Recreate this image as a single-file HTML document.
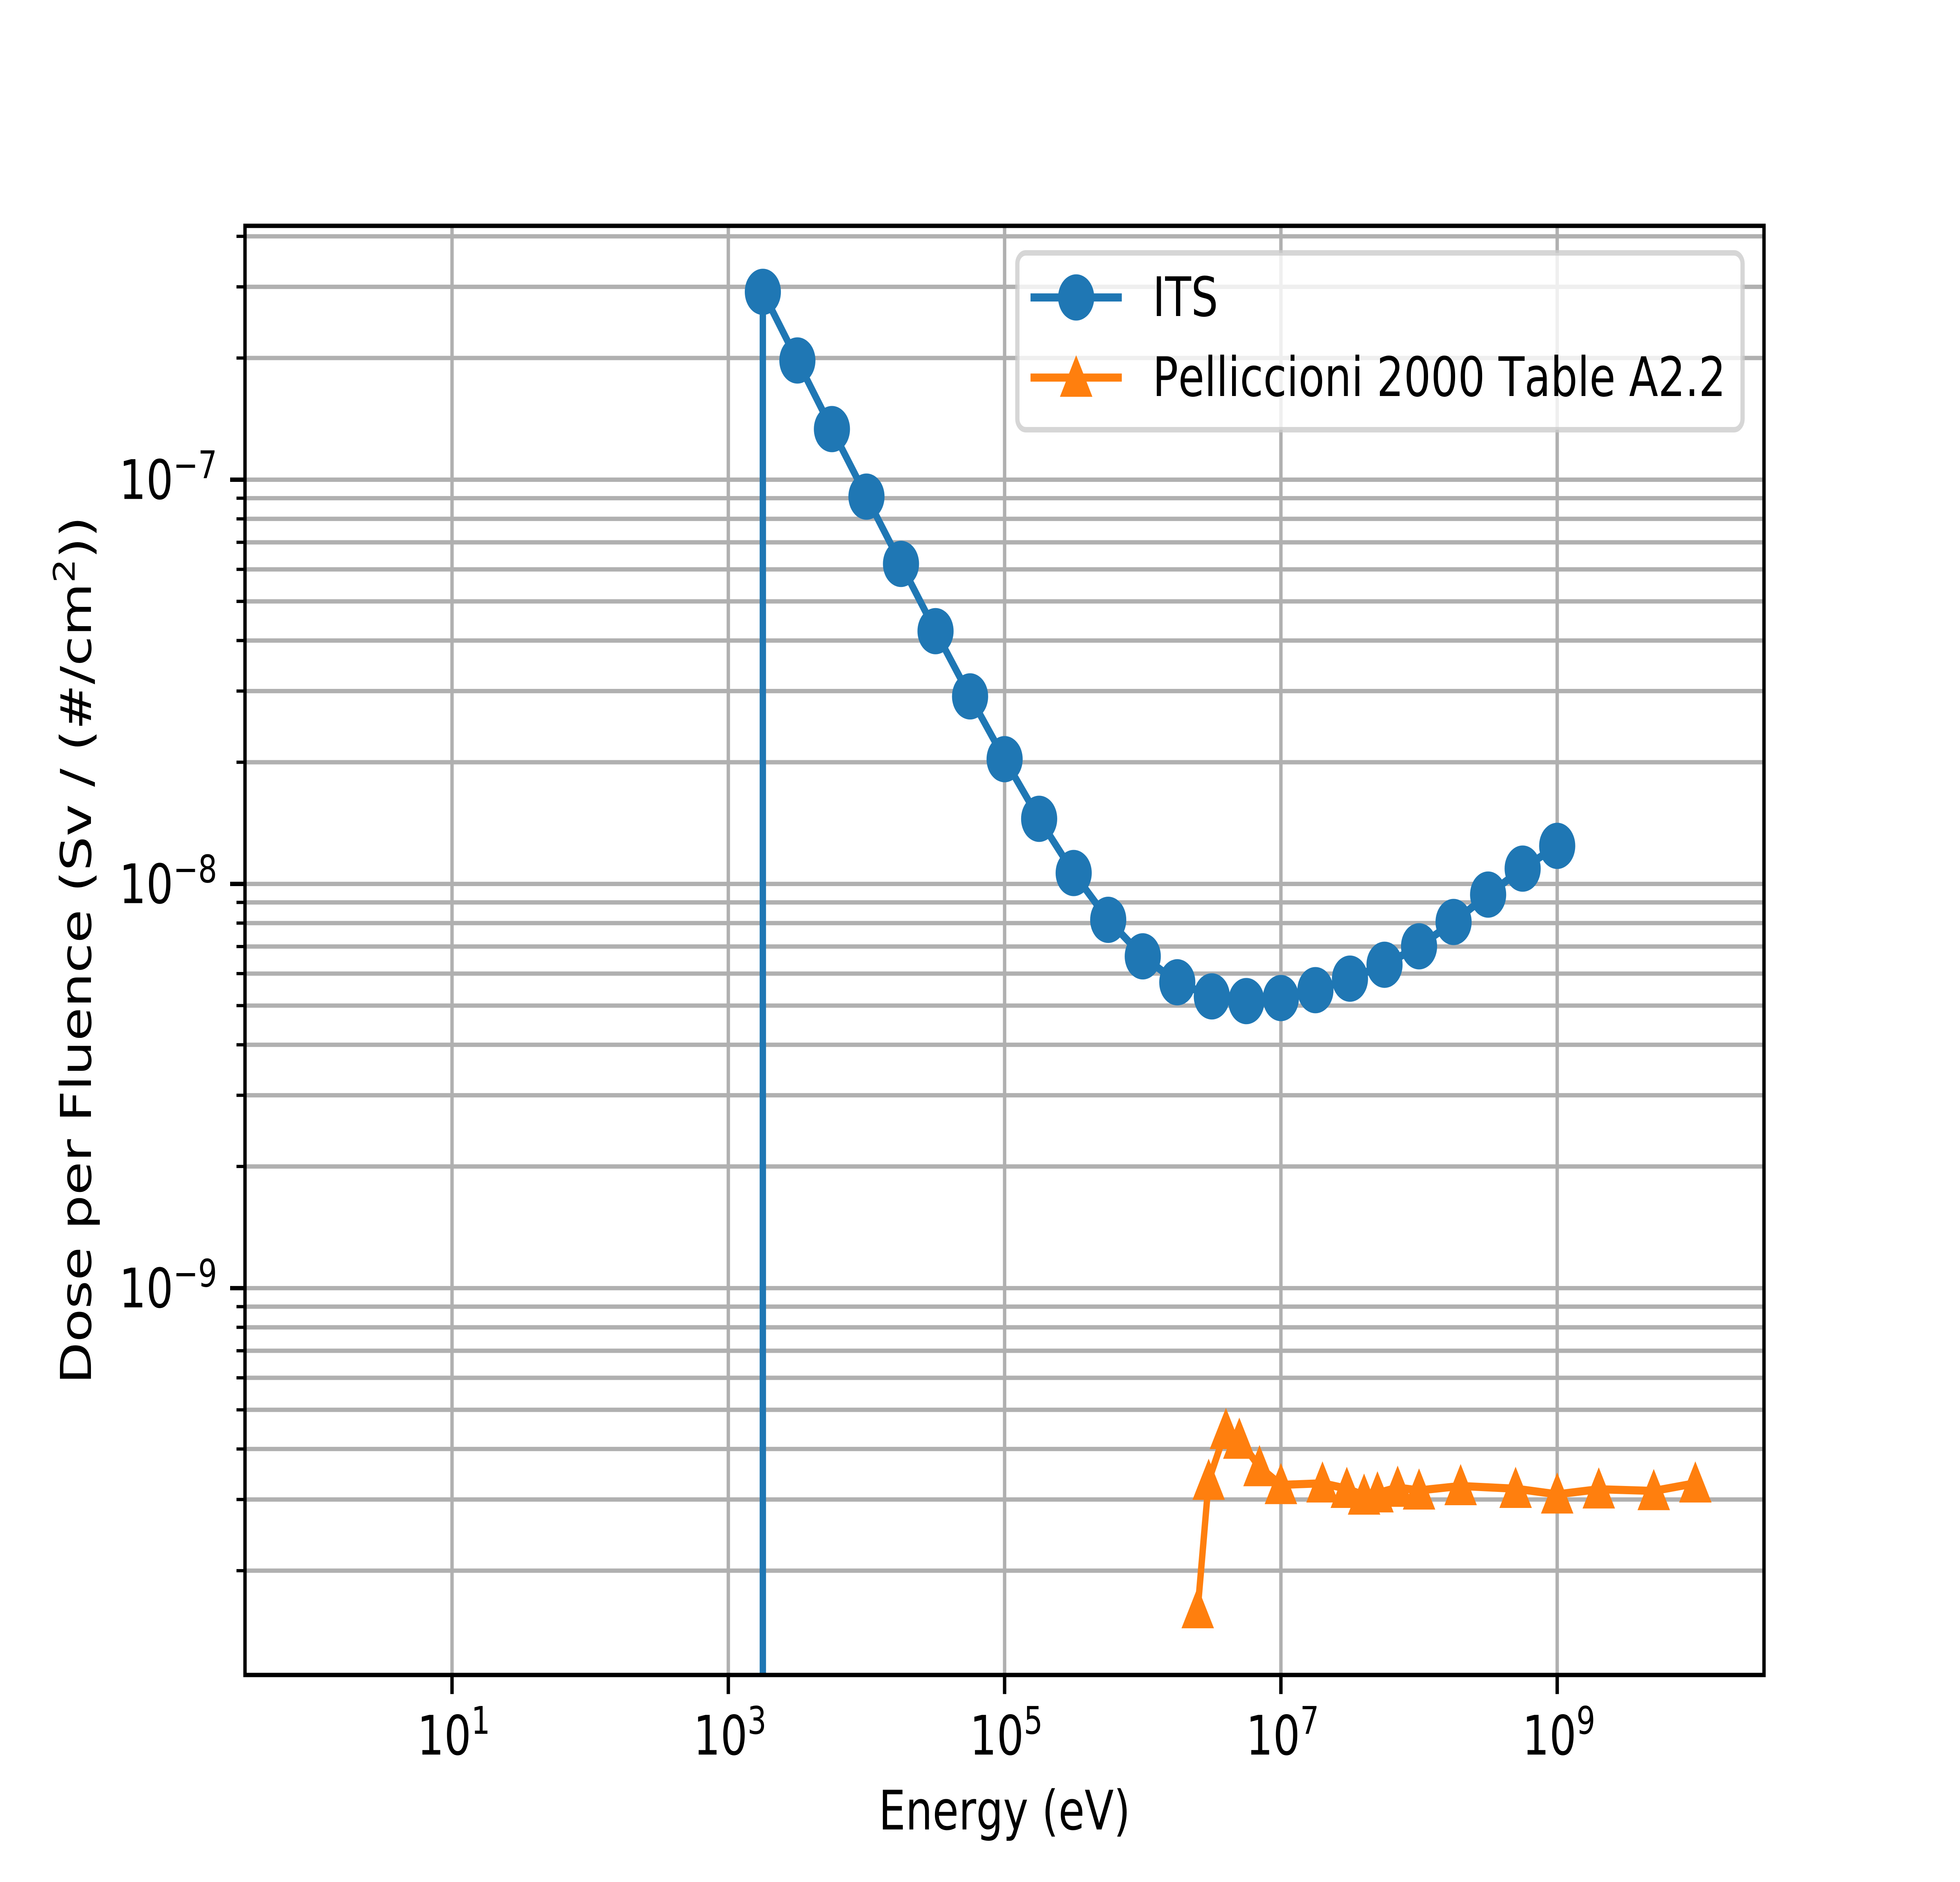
<!DOCTYPE html>
<html lang="en">
<head>
<meta charset="utf-8">
<meta name="viewport" content="width=6400, height=4800, initial-scale=1">
<title>Dose per Fluence vs Energy</title>
<style>
  html, body { margin: 0; padding: 0; background: #ffffff; width: 100%; height: 100%; overflow: hidden; }
  svg { display: block; width: 100vw; height: 100vh; }
  text { font-family: "DejaVu Sans", "Liberation Sans", sans-serif; fill: #000000; text-rendering: geometricPrecision; font-kerning: none; }
</style>
</head>
<body>
<svg id="chart" xmlns="http://www.w3.org/2000/svg" viewBox="0 0 6400 4800" preserveAspectRatio="none">
  <rect x="0" y="0" width="6400" height="4800" fill="#ffffff"/>
  <defs>
    <clipPath id="plot-clip"><rect x="800" y="576" width="4960" height="3696"/></clipPath>
  </defs>
  <g id="grid-layer" clip-path="url(#plot-clip)"></g>
  <g id="series-layer" clip-path="url(#plot-clip)"></g>
  <g id="tick-layer"></g>
  <rect x="800" y="576" width="4960" height="3696" fill="none" stroke="#000000" stroke-width="11.1"/>

  <text x="3280" y="4666" font-size="138.9" text-anchor="middle">Energy (eV)</text>
  <text transform="translate(297,3530) rotate(-90)" font-size="138.9">Dose per Fluence (Sv / (#/cm<tspan font-size="97.2" dy="-53">2</tspan><tspan dy="53">))</tspan></text>

  <g>
    <rect x="3322" y="645" width="2368" height="451" rx="27.8" ry="27.8" fill="#ffffff" fill-opacity="0.8" stroke="#cccccc" stroke-opacity="0.8" stroke-width="13.9"/>
    <g>
      <line x1="3365" y1="758.6" x2="3663" y2="758.6" stroke="#1f77b4" stroke-width="20.8"/>
      <circle cx="3514" cy="758.6" r="59" fill="#1f77b4"/>
      <text x="3763.6" y="806" font-size="138.9">ITS</text>
    </g>
    <g>
      <line x1="3365" y1="963" x2="3663" y2="963" stroke="#ff7f0e" stroke-width="20.8"/>
      <polygon points="3514,906 3567,1012 3461,1012" fill="#ff7f0e"/>
      <text x="3763.6" y="1010" font-size="138.9">Pelliccioni 2000 Table A2.2</text>
    </g>
  </g>
</svg>
<script>
// ---- chart data ----
const itsEnergy = [1.778e3, 1.778e3, 3.162e3, 5.623e3, 1e4, 1.778e4, 3.162e4, 5.623e4, 1e5, 1.778e5, 3.162e5, 5.623e5, 1e6, 1.778e6, 3.162e6, 5.623e6, 1e7, 1.778e7, 3.162e7, 5.623e7, 1e8, 1.778e8, 3.162e8, 5.623e8, 1e9];
const itsDose = [0, 2.915e-7, 1.972e-7, 1.334e-7, 9.08e-8, 6.19e-8, 4.22e-8, 2.91e-8, 2.035e-8, 1.449e-8, 1.064e-8, 8.15e-9, 6.62e-9, 5.71e-9, 5.27e-9, 5.13e-9, 5.22e-9, 5.46e-9, 5.83e-9, 6.31e-9, 7.01e-9, 8.05e-9, 9.41e-9, 1.091e-8, 1.242e-8];
const pellEnergy = [2.5e6, 3e6, 4e6, 5e6, 7e6, 1e7, 2e7, 3e7, 4e7, 5e7, 7e7, 1e8, 2e8, 5e8, 1e9, 2e9, 5e9, 1e10];
const pellDose = [1.607e-10, 3.34e-10, 4.46e-10, 4.22e-10, 3.61e-10, 3.26e-10, 3.29e-10, 3.19e-10, 3.07e-10, 3.11e-10, 3.21e-10, 3.16e-10, 3.24e-10, 3.19e-10, 3.09e-10, 3.18e-10, 3.15e-10, 3.29e-10];
const xTickExponents = [1, 3, 5, 7, 9];
const yTickExponents = [-7, -8, -9];
const yMinorMultipliers = [2, 3, 4, 5, 6, 7, 8, 9];
const yMinorDecades = [-10, -9, -8, -7];

// ---- axis functions ----
const plotLeft = 800, plotRight = 5760, plotTop = 576, plotBottom = 4272;
const xLogMin = -0.4986, xLogMax = 10.497;
const yLogMin = -9.957, yLogMax = -6.372;
function xScale(v) { return plotLeft + (Math.log10(v) - xLogMin) / (xLogMax - xLogMin) * (plotRight - plotLeft); }
// Non-positive doses cannot sit on a log axis: they drop just below the plot floor.
function yScale(v) {
  if (!(v > 0)) return plotBottom + 20;
  return plotBottom - (Math.log10(v) - yLogMin) / (yLogMax - yLogMin) * (plotBottom - plotTop);
}

const NS = 'http://www.w3.org/2000/svg';
const gridLayer = document.getElementById('grid-layer');
const seriesLayer = document.getElementById('series-layer');
const tickLayer = document.getElementById('tick-layer');
function mk(tag, props, parent) {
  const el = document.createElementNS(NS, tag);
  for (const k in props) el.setAttribute(k, props[k]);
  parent.appendChild(el);
  return el;
}
function powerLabel(exponent, x, y) {
  const t = mk('text', { x: x, y: y, 'font-size': 138.9 }, tickLayer);
  t.appendChild(document.createTextNode('10'));
  const sup = document.createElementNS(NS, 'tspan');
  sup.setAttribute('font-size', '97.2');
  sup.setAttribute('x', String(x + 176.7));
  sup.setAttribute('dy', '-53');
  sup.textContent = String(exponent).replace('-', '\u2212');
  t.appendChild(sup);
  return t;
}

// ---- y minor gridlines and ticks ----
yMinorDecades.forEach(function (decade) {
  yMinorMultipliers.forEach(function (m) {
    const v = m * Math.pow(10, decade);
    const y = yScale(v);
    if (y < plotTop || y > plotBottom) return;
    const g = mk('line', { x1: plotLeft, x2: plotRight, y1: y, y2: y, stroke: '#b0b0b0', 'stroke-width': 11.1 }, gridLayer);
    
    
    const t = mk('line', { x1: plotLeft - 27.8, x2: plotLeft, y1: y, y2: y, stroke: '#000000', 'stroke-width': 8.3 }, tickLayer);
    
    
  });
});

// ---- y major gridlines, ticks, labels ----
yTickExponents.forEach(function (e) {
  const y = yScale(Math.pow(10, e));
  const g = mk('line', { x1: plotLeft, x2: plotRight, y1: y, y2: y, stroke: '#b0b0b0', 'stroke-width': 11.1 }, gridLayer);
  
  
  const t = mk('line', { x1: plotLeft - 48.6, x2: plotLeft, y1: y, y2: y, stroke: '#000000', 'stroke-width': 11.1 }, tickLayer);
  
  
  const lab = powerLabel(e, 389, y + 49);
  
  
});

// ---- x gridlines, ticks, labels ----
xTickExponents.forEach(function (e) {
  const x = xScale(Math.pow(10, e));
  const g = mk('line', { x1: x, x2: x, y1: plotTop, y2: plotBottom, stroke: '#b0b0b0', 'stroke-width': 11.1 }, gridLayer);
  
  
  const t = mk('line', { x1: x, x2: x, y1: plotBottom, y2: plotBottom + 48.6, stroke: '#000000', 'stroke-width': 11.1 }, tickLayer);
  
  
  const lab = powerLabel(e, x - 114, 4475);
  
  
});

// ---- series ----
function linePoints(xs, ys) {
  return xs.map(function (v, i) { return xScale(v).toFixed(1) + ',' + yScale(ys[i]).toFixed(1); }).join(' ');
}
const itsLine = mk('polyline', { points: linePoints(itsEnergy, itsDose), fill: 'none', stroke: '#1f77b4', 'stroke-width': 20.8, 'stroke-linejoin': 'round' }, seriesLayer);


itsEnergy.forEach(function (v, i) {
  if (!(itsDose[i] > 0)) return;
  const c = mk('circle', { cx: xScale(v), cy: yScale(itsDose[i]), r: 59, fill: '#1f77b4' }, seriesLayer);
  
  
});
const pellLine = mk('polyline', { points: linePoints(pellEnergy, pellDose), fill: 'none', stroke: '#ff7f0e', 'stroke-width': 20.8, 'stroke-linejoin': 'round' }, seriesLayer);


pellEnergy.forEach(function (v, i) {
  const x = xScale(v), y = yScale(pellDose[i]);
  const p = mk('polygon', { points: x + ',' + (y - 56) + ' ' + (x + 53) + ',' + (y + 49) + ' ' + (x - 53) + ',' + (y + 49), fill: '#ff7f0e' }, seriesLayer);
  
  
});
</script>
</body>
</html>
